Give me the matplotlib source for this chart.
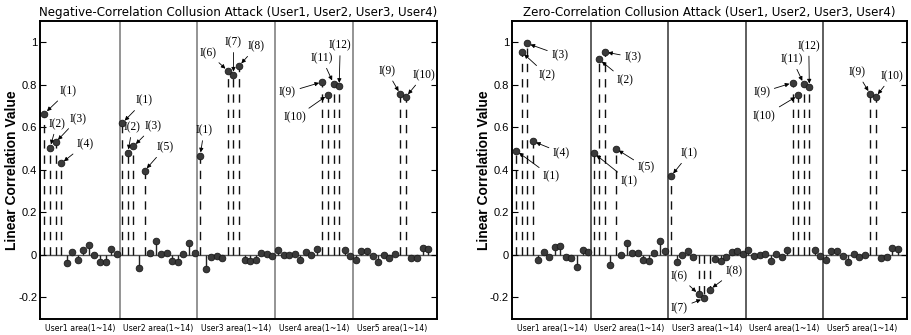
import numpy as np
import matplotlib
matplotlib.use("Agg")
import matplotlib.pyplot as plt
from matplotlib.transforms import blended_transform_factory

plt.rcParams.update({
    "font.family": "DejaVu Sans",
    "figure.dpi": 100,
})

# ── Data ──────────────────────────────────────────────────────────────────────
AREA_LABELS = ["User1 area(1~14)", "User2 area(1~14)", "User3 area(1~14)",
               "User4 area(1~14)", "User5 area(1~14)"]

# image numbers (1..14) of the colluders inside each user area
COLLUDERS = [[1, 2, 3, 4], [1, 2, 3, 5], [1, 6, 7, 8], [9, 10, 11, 12], [9, 10]]

neg_area1 = [0.665, 0.504, 0.529, 0.430, -0.039, 0.013, -0.022, 0.025, 0.044, 0.000, -0.033, -0.034, 0.027, 0.006]
neg_area2 = [0.620, 0.480, 0.510, -0.062, 0.395, 0.008, 0.064, 0.006, 0.008, -0.027, -0.036, 0.006, 0.058, 0.011]
neg_area3 = [0.466, -0.065, -0.011, -0.006, -0.013, 0.865, 0.846, 0.889, -0.023, -0.031, -0.025, 0.009, 0.003, -0.006]
neg_area4 = [0.022, -0.002, 0.000, 0.005, -0.025, 0.012, -0.002, 0.027, 0.814, 0.753, 0.806, 0.793, 0.023, -0.006]
neg_area5 = [-0.023, 0.019, 0.019, -0.005, -0.034, 0.000, -0.013, 0.002, 0.756, 0.743, -0.017, -0.013, 0.034, 0.028]

zero_area1 = [0.490, 0.955, 0.995, 0.535, -0.023, 0.014, -0.012, 0.037, 0.042, -0.011, -0.014, -0.056, 0.023, 0.014]
zero_area2 = [0.480, 0.920, 0.955, -0.048, 0.500, 0.000, 0.056, 0.009, 0.009, -0.022, -0.030, 0.011, 0.064, 0.019]
zero_area3 = [0.370, -0.033, -0.003, 0.019, -0.012, -0.186, -0.205, -0.164, -0.020, -0.031, -0.009, 0.014, 0.016, 0.005]
zero_area4 = [0.022, -0.005, 0.000, 0.003, -0.027, 0.005, -0.011, 0.022, 0.810, 0.750, 0.804, 0.790, 0.023, -0.005]
zero_area5 = [-0.023, 0.019, 0.019, -0.005, -0.036, 0.002, -0.012, 0.000, 0.757, 0.743, -0.016, -0.012, 0.034, 0.028]

NEG_VALUES = [neg_area1, neg_area2, neg_area3, neg_area4, neg_area5]
ZERO_VALUES = [zero_area1, zero_area2, zero_area3, zero_area4, zero_area5]

# (area, image number, text x, text y) — label placement
NEG_NOTES = [
    (0, 1, 5.2, 0.77), (0, 2, 3.2, 0.615), (0, 3, 7.0, 0.64), (0, 4, 8.3, 0.52),
    (1, 1, 18.9, 0.725), (1, 2, 16.8, 0.60), (1, 3, 20.6, 0.605), (1, 5, 22.7, 0.505),
    (2, 1, 29.7, 0.585), (2, 6, 30.5, 0.95), (2, 7, 35.0, 1.0), (2, 8, 39.1, 0.98),
    (3, 9, 44.7, 0.765), (3, 10, 46.1, 0.645), (3, 11, 50.9, 0.925), (3, 12, 54.2, 0.985),
    (4, 9, 62.6, 0.865), (4, 10, 69.2, 0.845),
]
ZERO_NOTES = [
    (0, 3, 8.9, 0.94), (0, 2, 6.6, 0.845), (0, 4, 9.2, 0.48), (0, 1, 7.4, 0.368),
    (1, 3, 22.1, 0.93), (1, 2, 20.7, 0.82), (1, 5, 24.5, 0.41), (1, 1, 21.5, 0.344),
    (2, 1, 32.3, 0.477), (2, 6, 30.5, -0.10), (2, 7, 30.5, -0.25), (2, 8, 40.4, -0.078),
    (3, 9, 45.4, 0.765), (3, 10, 45.8, 0.653), (3, 11, 50.9, 0.92), (3, 12, 53.9, 0.983),
    (4, 9, 62.6, 0.86), (4, 10, 68.9, 0.84),
]

YTICKS = [-0.2, 0, 0.2, 0.4, 0.6, 0.8, 1]
YTICK_LABELS = ["-0.2", "0", "0.2", "0.4", "0.6", "0.8", "1"]

N_IMG = 14


def draw_panel(ax, values, notes, title, sep_color, ylab_x):
    for a, vals in enumerate(values):
        xs = np.arange(1, N_IMG + 1) + a * N_IMG
        vals = np.asarray(vals)
        coll = np.isin(np.arange(1, N_IMG + 1), COLLUDERS[a])
        # solid stems for innocent images, dashed for colluders
        ax.vlines(xs[~coll], 0, vals[~coll], color="#222222", lw=1.0, zorder=2)
        ax.vlines(xs[coll], 0, vals[coll], color="#111111", lw=1.0,
                  linestyles=(0, (6, 5)), zorder=2)
        ax.plot(xs, vals, "o", ms=4.8, mfc="#3a3a3a", mec="#1a1a1a",
                mew=0.6, zorder=4)
        if a > 0:
            ax.axvline(a * N_IMG + 0.5, color=sep_color, lw=1.1, zorder=1)

    ax.axhline(0, color="#555555", lw=1.0, zorder=1)

    for a, img, tx, ty in notes:
        x = a * N_IMG + img
        y = values[a][img - 1]
        ax.annotate(f"I({img})", xy=(x, y), xytext=(tx, ty),
                    ha="center", va="center", fontsize=8.3,
                    family="Liberation Serif",
                    arrowprops=dict(arrowstyle="-|>", lw=0.6, color="black",
                                    mutation_scale=6, shrinkA=1, shrinkB=2.5))

    trans = blended_transform_factory(ax.transData, ax.transAxes)
    for a, lab in enumerate(AREA_LABELS):
        ax.text(a * N_IMG + 7.5, -0.018, lab, transform=trans, ha="center",
                va="top", fontsize=5.6)

    ax.set_xlim(0.2, 71.6)
    ax.set_ylim(-0.3, 1.1)
    ax.set_xticks([])
    ax.set_yticks(YTICKS)
    ax.set_yticklabels(YTICK_LABELS, fontsize=8, family="Liberation Sans")
    ax.tick_params(axis="y", direction="in", length=4, width=0.8,
                   right=True, pad=2)
    for sp in ax.spines.values():
        sp.set_linewidth(1.4)
    ax.set_ylabel("Linear Correlation Value", fontsize=10,
                  fontweight="bold", family="Liberation Sans")
    ax.yaxis.set_label_coords(ylab_x, 0.5)
    ax.set_title(title, fontsize=8.6, pad=4)


fig = plt.figure(figsize=(9.11, 3.35), dpi=100)
ax1 = fig.add_axes([40 / 911, 0.049, 397 / 911, 0.888])
ax2 = fig.add_axes([511.7 / 911, 0.049, 395 / 911, 0.888])

draw_panel(ax1, NEG_VALUES, NEG_NOTES,
           "Negative-Correlation Collusion Attack (User1, User2, User3, User4)",
           "#777777", -0.053)
draw_panel(ax2, ZERO_VALUES, ZERO_NOTES,
           "Zero-Correlation Collusion Attack (User1, User2, User3, User4)",
           "#333333", -0.052)

fig.savefig("out.png", dpi=100)
